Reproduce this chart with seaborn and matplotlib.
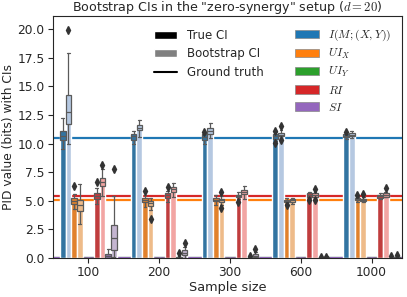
import numpy as np
import pandas as pd
import matplotlib
matplotlib.use("Agg")
import matplotlib.pyplot as plt
from matplotlib.patches import Patch
from matplotlib.lines import Line2D
import seaborn as sns

# sample sizes on the x axis
sample_sizes = ["100", "200", "300", "600", "1000"]

# PID components and CI types (hue = component x CI type)
components = ["MI", "UIX", "UIY", "RI", "SI"]
comp_labels = [r"$I(M;(X,Y))$", r"$UI_X$", r"$UI_Y$", r"$RI$", r"$SI$"]
ci_kinds = ["True CI", "Bootstrap CI"]
ground_truth = [10.5, 5.05, 0.0, 5.45, 0.0]

# box stats, rows: MI true, MI boot, UIX true, UIX boot,
# UIY true, UIY boot, RI true, RI boot, SI true, SI boot; columns: sample sizes
med = [
    [10.7, 10.65, 10.55, 10.65, 10.7],
    [12.75, 11.36, 11.14, 10.79, 10.79],
    [4.97, 5.1, 5.1, 5.0, 5.15],
    [4.66, 4.8, 5.04, 5.04, 5.1],
    [0, 0, 0, 0, 0],
    [0, 0, 0, 0, 0],
    [5.4, 5.47, 5.45, 5.5, 5.4],
    [6.67, 6.04, 5.81, 5.5, 5.5],
    [0.2, 0.05, 0.02, 0.02, 0.02],
    [1.78, 0.48, 0.2, 0.05, 0.05],
]
q1 = [
    [10.3, 10.36, 10.3, 10.4, 10.56],
    [11.74, 11.17, 10.88, 10.65, 10.65],
    [4.75, 4.89, 4.97, 4.89, 5.04],
    [4.08, 4.54, 4.89, 4.92, 4.98],
    [0, 0, 0, 0, 0],
    [0, 0, 0, 0, 0],
    [5.18, 5.27, 5.32, 5.38, 5.27],
    [6.33, 5.81, 5.6, 5.32, 5.38],
    [0.05, 0, 0, 0, 0],
    [0.72, 0.28, 0.1, 0, 0],
]
q3 = [
    [11.08, 10.85, 10.8, 10.85, 10.85],
    [14.25, 11.6, 11.36, 10.93, 10.93],
    [5.23, 5.27, 5.27, 5.1, 5.27],
    [5.09, 4.97, 5.18, 5.15, 5.2],
    [0, 0, 0, 0, 0],
    [0, 0, 0, 0, 0],
    [5.67, 5.67, 5.55, 5.67, 5.55],
    [7.0, 6.24, 5.98, 5.67, 5.67],
    [0.35, 0.1, 0.04, 0.03, 0.03],
    [2.88, 0.72, 0.35, 0.1, 0.1],
]
whis_lo = [
    [9.5, 9.93, 10.0, 10.2, 10.4],
    [9.98, 10.59, 10.45, 10.5, 10.5],
    [4.3, 4.46, 4.6, 4.76, 4.89],
    [2.96, 4.17, 4.66, 4.76, 4.89],
    [0, 0, 0, 0, 0],
    [0, 0, 0, 0, 0],
    [4.75, 4.89, 5.2, 5.27, 5.2],
    [5.4, 5.38, 5.18, 5.2, 5.3],
    [0, 0, 0, 0, 0],
    [0.1, 0, 0, 0, 0],
]
whis_hi = [
    [12.23, 11.08, 10.93, 11.0, 11.0],
    [17.93, 12.03, 11.8, 11.2, 11.1],
    [5.6, 5.55, 5.47, 5.27, 5.35],
    [6.48, 5.27, 5.4, 5.27, 5.35],
    [0, 0, 0, 0, 0],
    [0, 0, 0, 0, 0],
    [6.1, 5.85, 5.75, 5.81, 5.7],
    [7.77, 6.53, 6.33, 5.81, 5.8],
    [0.8, 0.2, 0.08, 0.05, 0.05],
    [5.4, 1.0, 0.5, 0.15, 0.15],
]
fliers = [
    [[], [], [11.0], [11.08, 10.07], [11.05]],
    [[19.95], [], [], [11.51, 10.36], []],
    [[6.27], [5.9], [], [4.6], [5.47]],
    [[], [3.45], [5.75, 4.4], [], [5.61]],
    [[], [], [], [], []],
    [[], [], [], [], []],
    [[6.67], [6.18], [4.89], [5.1], []],
    [[8.14], [], [], [6.04, 5.1], [6.13]],
    [[], [0.43], [0.2], [0.12], [0.15]],
    [[7.77], [1.35], [0.78], [0.1], [0.3]],
]

series = [f"{c} {k}" for c in components for k in ci_kinds]
rows = []
for i, s in enumerate(series):
    for j, n in enumerate(sample_sizes):
        rows.append({"Sample size": n, "series": s, "value": med[i][j]})
df = pd.DataFrame(rows)

sns.set_style("ticks")
plt.rcParams["font.size"] = 9
plt.rcParams["mathtext.fontset"] = "cm"
pal = sns.color_palette("tab20", 10)

fig, ax = plt.subplots(figsize=(4.07, 2.97), dpi=100)
fig.subplots_adjust(left=0.13, right=0.988, bottom=0.131, top=0.946)

sns.barplot(data=df, x="Sample size", y="value", hue="series", hue_order=series,
            order=sample_sizes, palette=pal, errorbar=None, legend=False, ax=ax)

# overlay box plots on each bar
for i, cont in enumerate(ax.containers):
    for j, bar in enumerate(cont):
        xc = bar.get_x() + bar.get_width() / 2
        st = [{"med": med[i][j], "q1": q1[i][j], "q3": q3[i][j],
               "whislo": whis_lo[i][j], "whishi": whis_hi[i][j],
               "fliers": fliers[i][j]}]
        ax.bxp(st, positions=[xc], widths=bar.get_width() * 0.95, patch_artist=True,
               manage_ticks=False,
               boxprops=dict(facecolor=bar.get_facecolor(), edgecolor="#5a5a5a", linewidth=0.9),
               whiskerprops=dict(color="#5a5a5a", linewidth=0.9),
               capprops=dict(color="#5a5a5a", linewidth=0.9),
               medianprops=dict(color="#5a5a5a", linewidth=0.9),
               flierprops=dict(marker="d", markerfacecolor="#333333",
                               markeredgecolor="#333333", markersize=4))

for gt, c in zip(ground_truth, sns.color_palette("tab10", 5)):
    ax.axhline(gt, color=c, linewidth=1.6, zorder=0.5)

ax.set_xlim(-0.5, 4.43)
ax.set_ylim(0, 21.15)
ax.set_title('Bootstrap CIs in the "zero-synergy" setup ($d=20$)', fontsize=9.1, pad=1)
ax.set_xlabel("Sample size", fontsize=9.3, labelpad=1)
ax.set_ylabel("PID value (bits) with CIs", fontsize=8.8, labelpad=2)
ax.tick_params(labelsize=8.8, pad=2.5)

h1 = [Patch(facecolor="black"), Patch(facecolor="gray"), Line2D([], [], color="black")]
leg1 = ax.legend(h1, ["True CI", "Bootstrap CI", "Ground truth"], frameon=False,
                 loc="upper left", bbox_to_anchor=(0.258, 0.99), fontsize=8.5,
                 labelspacing=0.45)
ax.add_artist(leg1)
h2 = [Patch(facecolor=pal[2 * k], edgecolor="#888888", linewidth=0.5) for k in range(5)]
ax.legend(h2, comp_labels, frameon=False, loc="upper right",
          bbox_to_anchor=(1.0, 0.995), fontsize=8.5, labelspacing=0.35)

fig.savefig("out.png", dpi=100)
